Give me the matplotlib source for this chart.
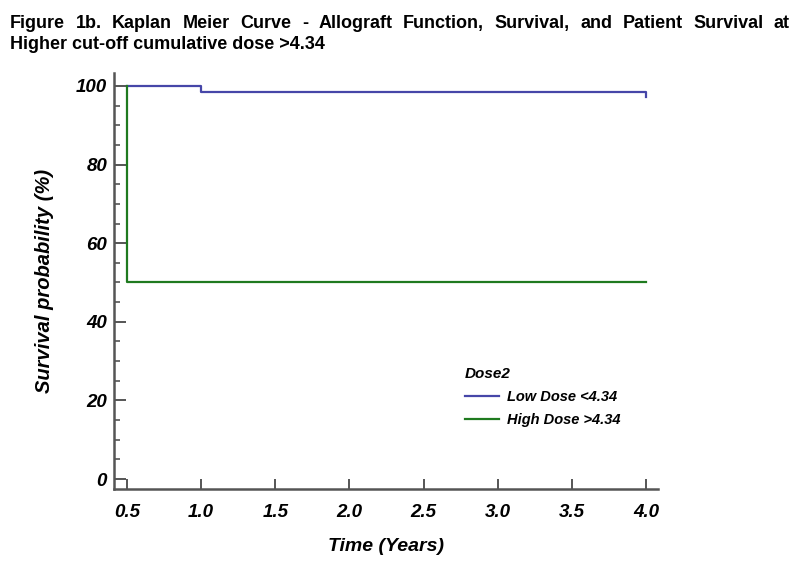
import matplotlib
matplotlib.use("Agg")
import matplotlib.pyplot as plt
from matplotlib.ticker import MultipleLocator

plt.rcParams['font.family'] = ['Liberation Sans', 'DejaVu Sans']

# donnees
low_times = [0.5, 1.0, 4.0]
low_surv = [100, 98.5, 97.3]
high_times = [0.5, 0.5, 4.0]
high_surv = [100, 50, 50]

x_ticks = [0.5, 1.0, 1.5, 2.0, 2.5, 3.0, 3.5, 4.0]
y_ticks = [0, 20, 40, 60, 80, 100]
labels = ["Low Dose <4.34", "High Dose >4.34"]
legend_title = "Dose2"
title_1 = "Figure 1b. Kaplan Meier Curve - Allograft Function, Survival, and Patient Survival at"
title_2 = "Higher cut-off cumulative dose >4.34"

blue = "#4646a8"
green = "#1f7a1f"
spine_col = "#555555"

fig = plt.figure(figsize=(7.98, 5.67), dpi=100)
ax = fig.add_axes([114/798, 1-489/567, (658-114)/798, (489-73)/567])

ax.step(low_times, low_surv, where='post', color=blue, lw=1.6, label=labels[0])
ax.step(high_times, high_surv, where='post', color=green, lw=1.6, label=labels[1])

ax.set_xlim(0.412, 4.081)
ax.set_ylim(-2.54, 103.3)
ax.set_xticks(x_ticks)
ax.set_xticklabels(["%.1f" % t for t in x_ticks])
ax.set_yticks(y_ticks)
ax.yaxis.set_minor_locator(MultipleLocator(5))

for s in ['top', 'right']:
    ax.spines[s].set_visible(False)
for s in ['left', 'bottom']:
    ax.spines[s].set_color(spine_col)
    ax.spines[s].set_linewidth(1.8)

ax.tick_params(axis='y', which='major', direction='in', length=8.6, width=1.4, color=spine_col, pad=5)
ax.tick_params(axis='y', which='minor', direction='in', length=4.3, width=1.2, color=spine_col)
ax.tick_params(axis='x', which='major', direction='in', length=7.2, width=1.4, color=spine_col, pad=11)

for lab in ax.get_xticklabels() + ax.get_yticklabels():
    lab.set_fontsize(13.5)
    lab.set_fontweight('bold')
    lab.set_fontstyle('italic')

ax.set_xlabel("Time (Years)", fontsize=14, fontweight='bold', fontstyle='italic', labelpad=12)
ax.set_ylabel("Survival probability (%)", fontsize=14.5, fontweight='bold', fontstyle='italic', labelpad=16)

leg = ax.legend(loc='upper left', bbox_to_anchor=((452-114)/544, (489-354)/416),
                frameon=False, fontsize=10.5, handlelength=2.3, handletextpad=0.6,
                labelspacing=0.6, alignment='left',
                title=legend_title, title_fontproperties={'weight': 'bold', 'style': 'italic', 'size': 11})
for t in leg.get_texts():
    t.set_fontstyle('italic')
    t.set_fontweight('bold')

# titre justifie sur la premiere ligne
fig.canvas.draw()
renderer = fig.canvas.get_renderer()
words = title_1.split(" ")
x_left, x_right = 10/798, 790/798
y1, y2 = 1-28/567, 1-49/567
txts = [fig.text(0, y1, w, fontsize=13, fontweight='bold', va='baseline') for w in words]
widths = [t.get_window_extent(renderer).width/798 for t in txts]
gap = (x_right - x_left - sum(widths)) / (len(words) - 1)
x = x_left
for t, w in zip(txts, widths):
    t.set_x(x)
    x += w + gap
fig.text(x_left, y2, title_2, fontsize=13, fontweight='bold', va='baseline')

fig.savefig("out.png", dpi=100)
